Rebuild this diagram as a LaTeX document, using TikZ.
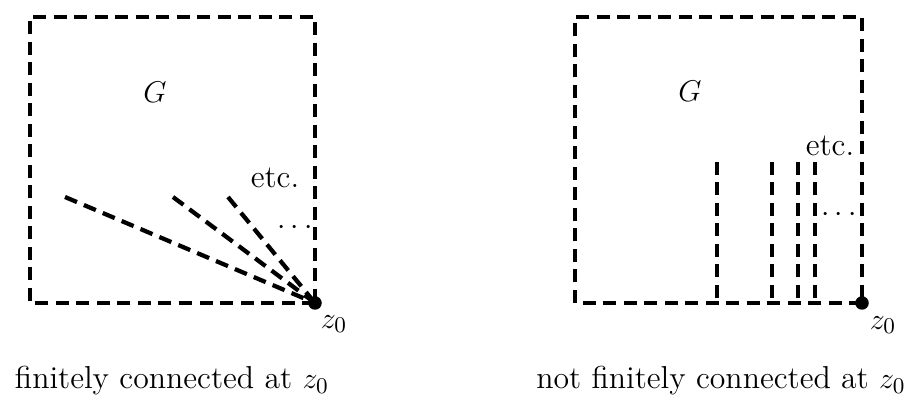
\documentclass[tikz,border=0pt]{standalone}
\begin{document}
\begin{tikzpicture}[x=0.4pt,y=-0.4pt,
  every node/.style={font=\fontsize{12.7}{15}\selectfont},
  dsh/.style={line width=1.7pt,dash pattern=on 5.2pt off 3pt},
  dotpt/.style={circle,fill=black,inner sep=0pt,minimum size=5.4pt},
  lbl/.style={inner sep=0pt}]
\useasboundingbox (0,0) rectangle (914,398);
% left panel
\draw[dsh] (315,303) -- (30,303) -- (30,17) -- (315,17) -- (315,303);
\node[dotpt] (za) at (315,303) {};
\coordinate (ra) at (65,197);
\coordinate (rb) at (173,197);
\coordinate (rc) at (228,197);
\draw[dsh] (ra) -- (za.center);
\draw[dsh] (rb) -- (za.center);
\draw[dsh] (rc) -- (za.center);
\node[lbl] (ga) at (155,92) {$G$};
\node[lbl] (ea) at (275,178) {etc.};
\node[lbl] (da) at (295,228) {$\cdots$};
\node[lbl] (zla) at (334,324) {$z_0$};
\node[lbl,anchor=base] (ca) at (172,389) {finitely connected at $z_0$};
% right panel
\draw[dsh] (862,303) -- (575,303) -- (575,17) -- (862,17) -- (862,303);
\node[dotpt] (zb) at (862,303) {};
\coordinate (va) at (717,162);
\coordinate (vb) at (772,162);
\coordinate (vc) at (798,162);
\coordinate (vd) at (815,162);
\draw[dsh] (va) -- (717,303);
\draw[dsh] (vb) -- (772,303);
\draw[dsh] (vc) -- (798,303);
\draw[dsh] (vd) -- (815,303);
\node[lbl] (gb) at (690,91) {$G$};
\node[lbl] (eb) at (830,146) {etc.};
\node[lbl] (db) at (839,215) {$\cdots$};
\node[lbl] (zlb) at (883,325) {$z_0$};
\node[lbl,anchor=base] (cb) at (721,389) {not finitely connected at $z_0$};
\end{tikzpicture}
\end{document}
